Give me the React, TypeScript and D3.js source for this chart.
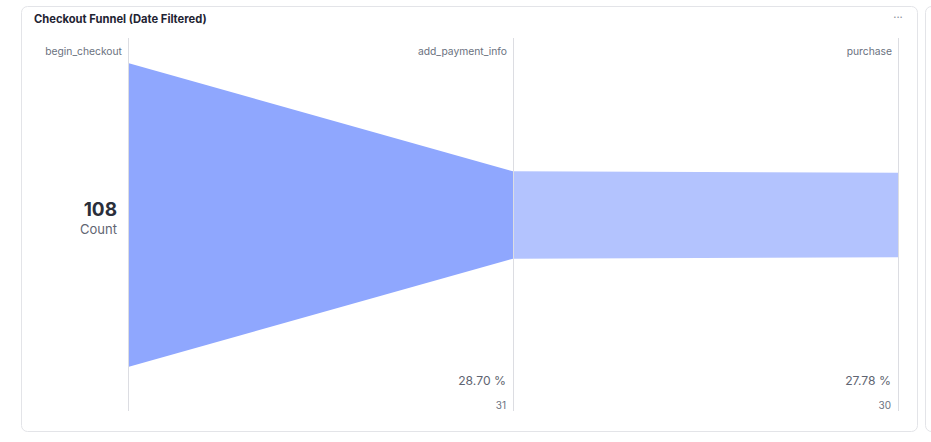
import React from "react";
import * as d3 from "d3";

const steps = ["begin_checkout", "add_payment_info", "purchase"];
const counts = [108, 31, 30];
const title = "Checkout Funnel (Date Filtered)";
const metricLabel = "Count";

export default function App() {
  const W = 931, H = 442;
  const x = d3.scalePoint<string>().domain(steps).range([128, 898]);
  const h = d3.scaleLinear().domain([0, counts[0]]).range([0, 304]);
  const cy = 215;
  const font = "Inter, 'Noto Sans', sans-serif";
  const colors = ["#8fa7fe", "#b3c3fe"];
  const area = d3.area<{ x: number; v: number }>()
    .x(d => d.x)
    .y0(d => cy - h(d.v) / 2)
    .y1(d => cy + h(d.v) / 2);
  const fmt = d3.format(".2f");
  return (
    <svg width={W} height={H} style={{ position: "absolute", left: 0, top: 0, fontFamily: font }}>
      <rect x={0} y={0} width={W} height={H} fill="#fff" />
      <rect x={21.5} y={6.5} width={896} height={425} rx={6} fill="#fff" stroke="#e3e4e8" />
      <rect x={925.5} y={6.5} width={40} height={425} rx={6} fill="#fff" stroke="#e3e4e8" />
      <text x={34} y={23} fontSize={11.2} fontWeight={700} fill="#1f2433">{title}</text>
      <text x={898} y={21} fontSize={11} fill="#8a8f99" textAnchor="middle">···</text>
      {steps.slice(0, -1).map((s, i) => (
        <path key={s} d={area([{ x: x(s)!, v: counts[i] }, { x: x(steps[i + 1])!, v: counts[i + 1] }]) || ""} fill={colors[Math.min(i, colors.length - 1)]} />
      ))}
      {steps.map((s, i) => (
        <g key={s}>
          <line x1={x(s)! + 0.5} x2={x(s)! + 0.5} y1={38} y2={411} stroke="#dcdde2" />
          <text x={x(s)! - 6} y={55} fontSize={10.3} fill="#6b7280" textAnchor="end">{s}</text>
          {i > 0 && (
            <>
              <text x={x(s)! - 7} y={385} fontSize={12.2} fill="#5f6572" textAnchor="end">{fmt(counts[i] / counts[0] * 100)} %</text>
              <text x={x(s)! - 7} y={409} fontSize={10} fill="#6b7280" textAnchor="end">{counts[i]}</text>
            </>
          )}
        </g>
      ))}
      <text x={117} y={216} fontSize={19} fontWeight={700} fill="#2b2f3a" textAnchor="end">{counts[0]}</text>
      <text x={117} y={234} fontSize={13} fill="#5f6572" textAnchor="end">{metricLabel}</text>
    </svg>
  );
}
